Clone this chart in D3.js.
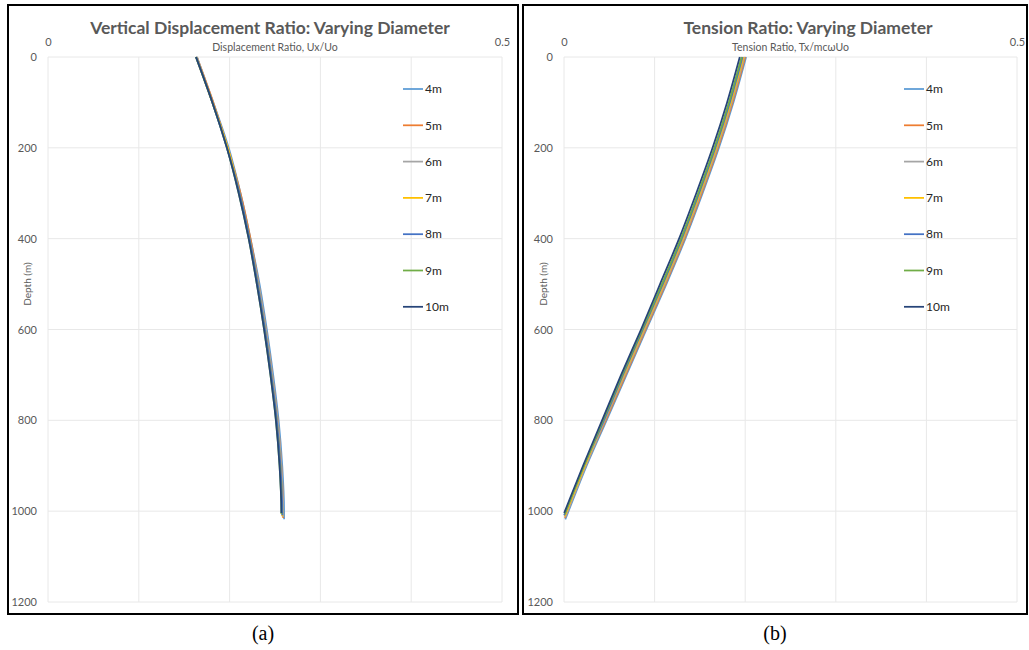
<!DOCTYPE html>
<html>
<head>
<meta charset="utf-8">
<script src="https://d3js.org/d3.v7.min.js"></script>
<style>
  body { margin: 0; background: #fff; }
  svg text { font-family: Lato, "Open Sans", sans-serif; }
</style>
</head>
<body>
<svg id="chart" width="1029" height="650"></svg>
<script>
// series names + excel default colours
var series = ["4m", "5m", "6m", "7m", "8m", "9m", "10m"]
var colors = ["#5b9bd5", "#ed7d31", "#a5a5a5", "#ffc000", "#4472c4", "#70ad47", "#264478"]

// depth samples (m); the last point of each series is its end depth
var depths = [0, 100, 200, 300, 400, 500, 600, 700, 800, 900, 1000]
var endDepth = [1018, 1015, 1013, 1011, 1009, 1006, 1004]

// displacement ratio Ux/Uo, panel (a)
var disp4 = [0.164, 0.182, 0.199, 0.212, 0.223, 0.233, 0.241, 0.248, 0.254, 0.258, 0.260, 0.260]
var disp5 = [0.164, 0.182, 0.198, 0.212, 0.223, 0.232, 0.240, 0.247, 0.253, 0.257, 0.259, 0.259]
var disp6 = [0.164, 0.181, 0.198, 0.211, 0.222, 0.232, 0.240, 0.247, 0.253, 0.257, 0.259, 0.259]
var disp7 = [0.163, 0.181, 0.198, 0.211, 0.222, 0.231, 0.239, 0.246, 0.252, 0.256, 0.258, 0.258]
var disp8 = [0.163, 0.181, 0.197, 0.211, 0.222, 0.231, 0.239, 0.246, 0.252, 0.256, 0.258, 0.258]
var disp9 = [0.163, 0.181, 0.197, 0.210, 0.221, 0.230, 0.238, 0.245, 0.251, 0.255, 0.257, 0.257]
var disp10 = [0.163, 0.181, 0.197, 0.210, 0.221, 0.230, 0.238, 0.245, 0.251, 0.255, 0.257, 0.257]

// tension ratio Tx/mcωUo, panel (b)
var ten4 = [0.201, 0.187, 0.171, 0.153, 0.134, 0.113, 0.091, 0.069, 0.047, 0.025, 0.005, 0.0014]
var ten5 = [0.200, 0.186, 0.170, 0.152, 0.133, 0.112, 0.090, 0.068, 0.046, 0.024, 0.004, 0.0010]
var ten6 = [0.199, 0.185, 0.169, 0.151, 0.132, 0.111, 0.089, 0.067, 0.045, 0.024, 0.004, 0.0014]
var ten7 = [0.198, 0.184, 0.168, 0.150, 0.131, 0.110, 0.088, 0.066, 0.044, 0.023, 0.003, 0.0008]
var ten8 = [0.197, 0.183, 0.167, 0.149, 0.130, 0.109, 0.087, 0.065, 0.044, 0.022, 0.002, 0.0002]
var ten9 = [0.196, 0.182, 0.166, 0.148, 0.129, 0.108, 0.086, 0.064, 0.043, 0.022, 0.002, 0.0008]
var ten10 = [0.194, 0.180, 0.164, 0.146, 0.127, 0.106, 0.085, 0.063, 0.042, 0.021, 0.001, 0.0002]

var xTicks = [0, 0.5]
var xGrid = [0, 0.1, 0.2, 0.3, 0.4, 0.5]
var yTicks = [0, 200, 400, 600, 800, 1000, 1200]

var panels = [
    { box: [8, 5, 510, 609], plot: [48, 502], titleX: 270, title: "Vertical Displacement Ratio: Varying Diameter",
      xTitle: "Displacement Ratio, Ux/Uo", caption: "(a)", legendX: 403,
      values: [disp4, disp5, disp6, disp7, disp8, disp9, disp10] },
    { box: [523, 5, 504, 609], plot: [564, 1017], titleX: 808, title: "Tension Ratio: Varying Diameter",
      xTitle: "Tension Ratio, Tx/mcωUo", caption: "(b)", legendX: 904,
      values: [ten4, ten5, ten6, ten7, ten8, ten9, ten10] }
]

var svg = d3.select("#chart")
var grey = "#595959"

panels.forEach(function(p) {
    var g = svg.append("g")

    var x = d3.scaleLinear().domain([0, 0.5]).range(p.plot)
    var y = d3.scaleLinear().domain([0, 1200]).range([57, 602])

    // gridlines
    g.selectAll(".vg").data(xGrid).enter().append("line")
    .attr("x1", function(d) { return x(d) }).attr("x2", function(d) { return x(d) })
    .attr("y1", y(0)).attr("y2", y(1200))
    .attr("stroke", "#e8e8e8").attr("stroke-width", 1)

    g.selectAll(".hg").data(yTicks).enter().append("line")
    .attr("x1", x(0)).attr("x2", x(0.5))
    .attr("y1", function(d) { return y(d) }).attr("y2", function(d) { return y(d) })
    .attr("stroke", "#e8e8e8").attr("stroke-width", 1)

    // top axis (only min/max labelled)
    var top = g.append("g")
    .attr("transform", "translate(0,46)")
    .call(d3.axisTop(x).tickValues(xTicks).tickSize(0).tickPadding(0).tickFormat(d3.format("")))
    top.select(".domain").remove()
    top.selectAll("text").attr("fill", grey).style("font-size", "11px")

    // left axis
    var left = g.append("g")
    .attr("transform", "translate(" + x(0) + ",0)")
    .call(d3.axisLeft(y).tickValues(yTicks).tickSize(0).tickPadding(11).tickFormat(d3.format("")))
    left.select(".domain").remove()
    left.selectAll("text").attr("fill", grey).style("font-size", "11px")

    // titles
    g.append("text")
    .attr("x", p.titleX).attr("y", 34)
    .attr("text-anchor", "middle").attr("fill", grey)
    .style("font-size", "17.5px").style("font-weight", "bold")
    .text(p.title)

    g.append("text")
    .attr("x", (p.plot[0] + p.plot[1]) / 2).attr("y", 51)
    .attr("text-anchor", "middle").attr("fill", grey)
    .style("font-size", "10.5px")
    .text(p.xTitle)

    g.append("text")
    .attr("transform", "translate(" + (x(0) - 17) + "," + y(500) + ") rotate(-90)")
    .attr("text-anchor", "middle").attr("fill", grey)
    .style("font-size", "10px")
    .text("Depth (m)")

    // curves
    var line = d3.line()
    .x(function(d) { return x(d[0]) })
    .y(function(d) { return y(d[1]) })
    .curve(d3.curveMonotoneY)

    series.forEach(function(s, i) {
        var pts = p.values[i].map(function(v, j) {
            return [v, j < depths.length ? depths[j] : endDepth[i]]
        })
        g.append("path")
        .datum(pts)
        .attr("fill", "none")
        .attr("stroke", colors[i])
        .attr("stroke-width", 1.75)
        .attr("d", line)
    })

    // legend
    var leg = g.selectAll(".leg").data(series).enter().append("g")
    .attr("transform", function(d, i) { return "translate(" + p.legendX + "," + (89 + i * 36.3) + ")" })
    leg.append("line")
    .attr("x1", 0).attr("x2", 20)
    .attr("stroke", function(d, i) { return colors[i] })
    .attr("stroke-width", 1.75)
    leg.append("text")
    .attr("x", 22).attr("dy", "0.35em")
    .attr("fill", "#262626")
    .style("font-size", "12px")
    .text(function(d) { return d })

    // frame
    g.append("rect")
    .attr("x", p.box[0]).attr("y", p.box[1])
    .attr("width", p.box[2]).attr("height", p.box[3])
    .attr("fill", "none").attr("stroke", "#000").attr("stroke-width", 2)

    // caption
    g.append("text")
    .attr("x", p.box[0] + p.box[2] / 2).attr("y", 640)
    .attr("text-anchor", "middle").attr("fill", "#000")
    .style("font-family", "'Liberation Serif', 'Times New Roman', serif")
    .style("font-size", "20px")
    .text(p.caption)
})
</script>
</body>
</html>
